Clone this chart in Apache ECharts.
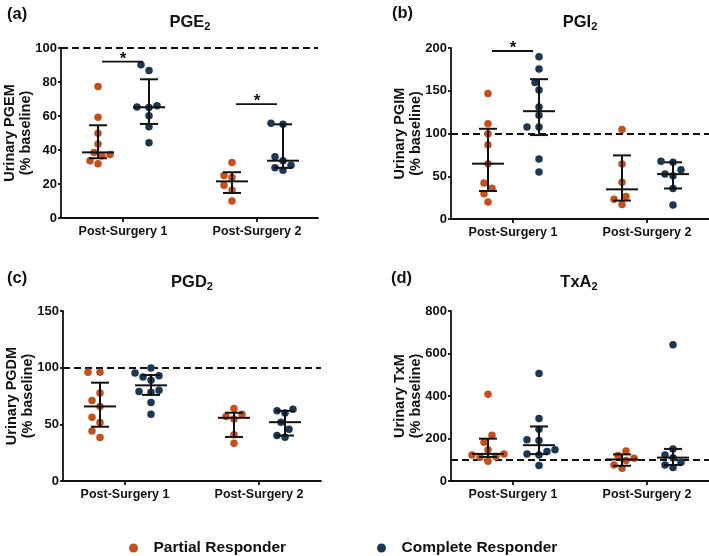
<!DOCTYPE html>
<html><head><meta charset="utf-8">
<script src="https://cdn.jsdelivr.net/npm/echarts@6/dist/echarts.min.js"></script>
<style>html,body{margin:0;padding:0;background:#fff}#c{width:709px;height:556px}</style>
</head><body><div id="c"></div>
<script>
// ---------- data ----------
const categories = ['Post-Surgery 1', 'Post-Surgery 2'];
const groups = ['Partial Responder', 'Complete Responder'];
const panelLetters = ['(a)', '(b)', '(c)', '(d)'];
const panelTitles = [['PGE', '2'], ['PGI', '2'], ['PGD', '2'], ['TxA', '2']];
const yAxisNames = ['Urinary PGEM', 'Urinary PGIM', 'Urinary PGDM', 'Urinary TxM'];
const yAxisSubName = '(% baseline)';
const yMaxima = [100, 200, 150, 800];
const yIntervals = [20, 50, 50, 200];
const baselineValue = 100;

const pgePartial1 = [77.4, 59.3, 49.8, 43.5, 36.6, 38.6, 37.4, 31.9, 33.7];
const pgeComplete1 = [90.2, 86.8, 65.3, 65.0, 66.0, 60.2, 53.7, 44.3];
const pgePartial2 = [32.7, 23.8, 25.0, 19.3, 16.3, 10.0];
const pgeComplete2 = [55.1, 55.7, 36.0, 33.7, 31.1, 28.1, 29.5];

const pgiPartial1 = [146.7, 111.4, 99.6, 86.7, 64.7, 42.0, 36.1, 29.4, 20.0];
const pgiComplete1 = [189.8, 175.3, 159.6, 151.0, 131.0, 121.2, 107.5, 107.5, 70.2, 54.9];
const pgiPartial2 = [104.7, 64.3, 43.1, 26.3, 23.1, 16.9];
const pgiComplete2 = [67.5, 66.3, 57.6, 50.6, 52.5, 35.7, 16.5];

const pgdPartial1 = [95.9, 95.9, 77.6, 71.1, 65.8, 56.3, 51.6, 44.2, 38.3];
const pgdComplete1 = [99.7, 95.3, 92.9, 91.7, 88.8, 80.0, 79.0, 78.2, 69.3, 59.0];
const pgdPartial2 = [64.0, 59.0, 56.9, 54.6, 40.7, 33.3];
const pgdComplete2 = [63.4, 61.9, 59.9, 51.9, 45.7, 40.1, 38.6];

const txPartial1 = [407.9, 215.7, 182.7, 146.5, 127.6, 122.8, 115.0, 111.8, 92.9];
const txComplete1 = [505.5, 294.5, 244.0, 193.7, 190.5, 146.5, 138.6, 127.6, 122.8, 72.4];
const txPartial2 = [141.7, 119.7, 107.0, 96.0, 75.6, 59.8];
const txComplete2 = [641.0, 151.0, 122.8, 110.0, 88.2, 75.6, 63.0];

// [panel index, category index, bar height value]
const significance = [[0, 0, 92], [0, 1, 67], [1, 0, 196.5]];

// panel -> group -> category
const panelData = [
  [[pgePartial1, pgePartial2], [pgeComplete1, pgeComplete2]],
  [[pgiPartial1, pgiPartial2], [pgiComplete1, pgiComplete2]],
  [[pgdPartial1, pgdPartial2], [pgdComplete1, pgdComplete2]],
  [[txPartial1, txPartial2], [txComplete1, txComplete2]]
];

// ---------- layout / style ----------
const FONT = '"Liberation Sans", Arial, Helvetica, sans-serif';
const COLORS = ['#C4501C', '#1B3754'];
const INK = '#111111';
const layout = [
  {left: 61, top: 48, width: 257, height: 170},
  {left: 451, top: 48, width: 258, height: 171},
  {left: 63, top: 311, width: 258, height: 170},
  {left: 451, top: 311, width: 258, height: 170}
];
const titlePos = [[190, 22], [580, 22], [192, 282], [579, 282]];
const letterPos = [[7, 14], [392, 13], [7, 278], [391, 278]];
const legendLeft = [124, 372];
const PX_PER_CAT = 134, FIRST_TICK_PX = 62;
const GROUP_OFFSET_PX = [-25, 26];
const DOT = 7.5;

function quantile(sorted, p) {
  const n = sorted.length;
  let pos = p * (n + 1);
  if (pos < 1) pos = 1;
  if (pos > n) pos = n;
  const lo = Math.floor(pos), frac = pos - lo;
  if (lo >= n) return sorted[n - 1];
  return sorted[lo - 1] + frac * (sorted[lo] - sorted[lo - 1]);
}

function swarm(values, pxPerUnit) {
  const idx = values.map((v, i) => i).sort((a, b) => values[a] - values[b]);
  const placed = [];
  const offs = new Array(values.length).fill(0);
  const cands = [0];
  for (let k = 1; k <= 10; k++) cands.push(-4 * k, 4 * k);
  idx.forEach(i => {
    const y = values[i] * pxPerUnit;
    for (const c of cands) {
      if (placed.every(p => Math.hypot(p.x - c, p.y - y) >= DOT + 0.6)) {
        offs[i] = c; placed.push({x: c, y}); break;
      }
    }
  });
  return offs;
}

const grids = [], xAxes = [], yAxes = [], series = [], graphics = [];

panelData.forEach((pd, p) => {
  const L = layout[p];
  grids.push({left: L.left, top: L.top, width: L.width, height: L.height, outerBoundsMode: 'none'});
  const xMin = 1 - FIRST_TICK_PX / PX_PER_CAT;
  xAxes.push({
    gridIndex: p, type: 'value', min: xMin, max: xMin + L.width / PX_PER_CAT,
    axisLine: {show: true, onZero: false, lineStyle: {color: INK, width: 1.8}},
    axisTick: {show: true, customValues: [1, 2], length: 4, lineStyle: {color: INK, width: 1.8}},
    axisLabel: {show: true, customValues: [1, 2], formatter: v => categories[Math.round(v) - 1] || '',
      color: INK, fontFamily: FONT, fontWeight: 'bold', fontSize: 12.5, margin: 7},
    splitLine: {show: false}
  });
  yAxes.push({
    gridIndex: p, type: 'value', min: 0, max: yMaxima[p], interval: yIntervals[p],
    axisLine: {show: true, onZero: false, lineStyle: {color: INK, width: 1.8}},
    axisTick: {show: true, length: 3, lineStyle: {color: INK, width: 1.8}},
    axisLabel: {color: INK, fontFamily: FONT, fontWeight: 'bold', fontSize: 13, margin: 4},
    splitLine: {show: false},
    name: yAxisNames[p] + '\n' + yAxisSubName, nameLocation: 'middle', nameRotate: 90, nameGap: 27,
    nameMoveOverlap: false,
    nameTextStyle: {color: INK, fontFamily: FONT, fontWeight: 'bold', fontSize: 14.5, lineHeight: 16}
  });
  const pxPerUnit = L.height / yMaxima[p];

  pd.forEach((groupCats, g) => {
    const pts = [];
    const stats = [];
    groupCats.forEach((vals, c) => {
      const offs = swarm(vals, pxPerUnit);
      const xc = (c + 1) + GROUP_OFFSET_PX[g] / PX_PER_CAT;
      vals.forEach((v, i) => pts.push([xc + offs[i] / PX_PER_CAT, v]));
      const s = vals.slice().sort((a, b) => a - b);
      stats.push([xc, quantile(s, 0.25), quantile(s, 0.5), quantile(s, 0.75)]);
    });
    const sc = {
      name: groups[g], type: 'scatter', xAxisIndex: p, yAxisIndex: p, data: pts,
      symbol: 'circle', symbolSize: DOT, itemStyle: {color: COLORS[g], opacity: 1}, z: 3, silent: true
    };
    if (g === 0) {
      sc.markLine = {
        silent: true, symbol: ['none', 'none'], label: {show: false},
        lineStyle: {color: INK, type: [7, 4], width: 1.8},
        data: [{yAxis: baselineValue}], z: 1
      };
    }
    series.push(sc);
    series.push({
      type: 'custom', xAxisIndex: p, yAxisIndex: p, data: stats, z: 5, silent: true,
      encode: {x: 0, y: [1, 2, 3]},
      renderItem(params, api) {
        const x = api.value(0);
        const m = api.coord([x, api.value(2)]);
        const q1 = api.coord([x, api.value(1)]);
        const q3 = api.coord([x, api.value(3)]);
        const st = {stroke: INK, lineWidth: 2};
        return {type: 'group', children: [
          {type: 'line', shape: {x1: m[0] - 16, y1: m[1], x2: m[0] + 16, y2: m[1]}, style: st},
          {type: 'line', shape: {x1: q1[0], y1: q1[1], x2: q3[0], y2: q3[1]}, style: st},
          {type: 'line', shape: {x1: q1[0] - 9, y1: q1[1], x2: q1[0] + 9, y2: q1[1]}, style: st},
          {type: 'line', shape: {x1: q3[0] - 9, y1: q3[1], x2: q3[0] + 9, y2: q3[1]}, style: st}
        ]};
      }
    });
  });

  const sig = significance.filter(s => s[0] === p).map(s => [s[1] + 1, s[2]]);
  if (sig.length) {
    series.push({
      type: 'custom', xAxisIndex: p, yAxisIndex: p, data: sig, z: 5, silent: true,
      encode: {x: 0, y: 1}, clip: false,
      renderItem(params, api) {
        const c = api.coord([api.value(0), api.value(1)]);
        return {type: 'group', children: [
          {type: 'line', shape: {x1: c[0] - 21, y1: c[1], x2: c[0] + 20, y2: c[1]}, style: {stroke: INK, lineWidth: 1.8}},
          {type: 'text', x: c[0], y: c[1] + 6, style: {text: '*', fill: INK, fontFamily: FONT, fontWeight: 'bold', fontSize: 17, align: 'center', verticalAlign: 'bottom'}}
        ]};
      }
    });
  }

  graphics.push({
    type: 'text', x: titlePos[p][0], y: titlePos[p][1],
    style: {
      text: '{m|' + panelTitles[p][0] + '}{s|' + panelTitles[p][1] + '}',
      align: 'center', verticalAlign: 'middle', fill: INK,
      rich: {
        m: {fontFamily: FONT, fontWeight: 'bold', fontSize: 16.5, lineHeight: 20, fill: INK},
        s: {fontFamily: FONT, fontWeight: 'bold', fontSize: 11, lineHeight: 14, verticalAlign: 'bottom', fill: INK}
      }
    }
  });
  graphics.push({
    type: 'text', x: letterPos[p][0], y: letterPos[p][1],
    style: {text: panelLetters[p], fill: INK, fontFamily: FONT, fontWeight: 'bold', fontSize: 16.5, align: 'left', verticalAlign: 'middle'}
  });
});

const legends = groups.map((name, g) => ({
  data: [name], left: legendLeft[g], top: 535, icon: 'circle', itemWidth: 30, itemHeight: 9,
  selectedMode: false,
  textStyle: {color: INK, fontFamily: FONT, fontWeight: 'bold', fontSize: 15.5}
}));

const chart = echarts.init(document.getElementById('c'), null, {renderer: 'canvas'});
chart.setOption({
  animation: false,
  backgroundColor: '#ffffff',
  grid: grids, xAxis: xAxes, yAxis: yAxes, series,
  graphic: graphics,
  legend: legends
});
</script>
</body></html>
